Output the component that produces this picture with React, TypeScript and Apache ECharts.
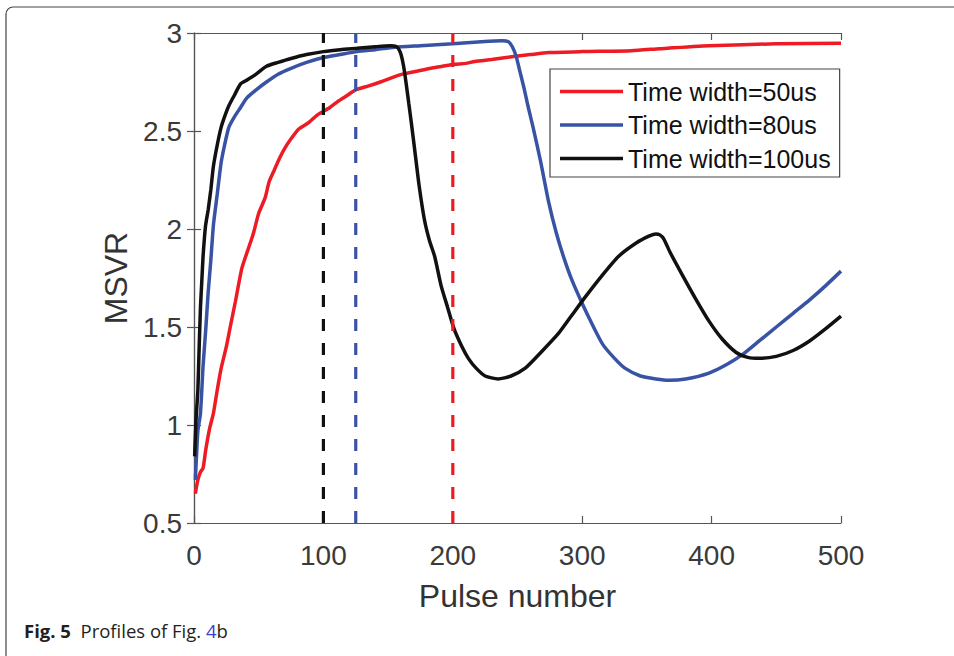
import React, { useEffect, useRef } from "react";
import * as echarts from "echarts";

const redX = [1, 3, 5, 7, 9, 12, 15, 18, 21, 25, 28, 32, 37, 42, 46, 50, 55, 58, 62, 66, 70, 75, 81, 88, 95, 100, 105, 111, 118, 125, 135, 144, 152, 161, 172, 183, 192, 201, 210, 217, 230, 247, 260, 274, 300, 338, 360, 398, 450, 500];
const redY = [0.65, 0.72, 0.76, 0.78, 0.87, 0.98, 1.06, 1.18, 1.29, 1.4, 1.5, 1.63, 1.8, 1.9, 1.98, 2.08, 2.16, 2.24, 2.3, 2.36, 2.41, 2.46, 2.51, 2.54, 2.58, 2.6, 2.62, 2.65, 2.68, 2.71, 2.73, 2.75, 2.77, 2.79, 2.805, 2.82, 2.83, 2.84, 2.845, 2.855, 2.865, 2.88, 2.89, 2.9, 2.905, 2.91, 2.92, 2.935, 2.945, 2.948];

const blueX = [1, 2, 3, 5, 7, 9, 11, 13, 15, 18, 21, 24, 27, 31, 36, 41, 48, 56, 65, 75, 87, 100, 113, 126, 140, 155, 175, 200, 222, 238, 243, 246, 249, 252, 255, 258, 262, 268, 274, 280, 286, 292, 300, 308, 316, 325, 333, 345, 357, 367, 380, 398, 412, 424, 437, 450, 463, 476, 488, 500];
const blueY = [0.72, 0.85, 0.97, 1.06, 1.3, 1.48, 1.68, 1.84, 2.02, 2.18, 2.34, 2.44, 2.52, 2.57, 2.62, 2.67, 2.71, 2.75, 2.79, 2.82, 2.85, 2.875, 2.89, 2.905, 2.915, 2.927, 2.935, 2.945, 2.955, 2.96, 2.955, 2.93, 2.88, 2.8, 2.72, 2.63, 2.52, 2.34, 2.14, 1.98, 1.85, 1.74, 1.62, 1.51, 1.41, 1.34, 1.29, 1.25, 1.235, 1.228, 1.235, 1.265, 1.31, 1.36, 1.43, 1.5, 1.57, 1.64, 1.71, 1.785];

const blackX = [0.5, 1.5, 3, 4, 5, 6, 7, 8, 9, 11, 13, 15, 18, 21, 24, 27, 31, 36, 41, 48, 56, 65, 75, 87, 100, 113, 126, 140, 152, 156, 158, 160, 162, 164, 166, 168, 171, 174, 178, 182, 186, 191, 196, 201, 207, 212, 218, 225, 235, 245, 256, 268, 282, 292, 302, 315, 328, 342, 352, 357, 360, 363, 368, 377, 388, 398, 408, 419, 428, 437, 450, 463, 476, 488, 500];
const blackY = [0.84, 1.02, 1.18, 1.4, 1.6, 1.73, 1.86, 1.95, 2.02, 2.1, 2.2, 2.32, 2.43, 2.52, 2.58, 2.63, 2.68, 2.74, 2.76, 2.79, 2.83, 2.85, 2.87, 2.89, 2.905, 2.915, 2.922, 2.93, 2.935, 2.932, 2.92, 2.89, 2.83, 2.74, 2.64, 2.54, 2.38, 2.22, 2.05, 1.94, 1.86, 1.71, 1.6, 1.49, 1.4, 1.34, 1.29, 1.25, 1.235, 1.25, 1.29, 1.37, 1.47, 1.56, 1.65, 1.76, 1.86, 1.93, 1.965, 1.975, 1.97, 1.95, 1.88, 1.77, 1.64, 1.53, 1.44, 1.37, 1.345, 1.34, 1.35, 1.38, 1.43, 1.49, 1.555];

const seriesNames = ["Time width=50us", "Time width=80us", "Time width=100us"];
const seriesColors = ["#ed1c24", "#3953a4", "#111111"];
const markerX = [100, 125, 200];
const markerColors = ["#111111", "#3953a4", "#ed1c24"];
const yRange = [0.5, 3];
const xTicks = { min: 0, max: 500, interval: 100 };
const yTicks = { min: 0.5, max: 3, interval: 0.5 };

const zip = (xs: number[], ys: number[]) => xs.map((x, i) => [x, ys[i]]);

export default function App() {
  const ref = useRef<HTMLDivElement>(null);
  useEffect(() => {
    if (!ref.current) return;
    const chart = echarts.init(ref.current, undefined, { renderer: "svg" });
    const axisColor = "#555";
    const labelFont = "Liberation Sans, Arial, sans-serif";
    const datas = [zip(redX, redY), zip(blueX, blueY), zip(blackX, blackY)];
    const mainSeries = seriesNames.map((name, i) => ({
      name,
      type: "line",
      data: datas[i],
      showSymbol: false,
      symbol: "none",
      smooth: 0.2,
      lineStyle: { color: seriesColors[i], width: 3.5 },
      itemStyle: { color: seriesColors[i] },
      z: 3 + i,
    }));
    const dashSeries = markerX.map((x, i) => ({
      name: "marker" + i,
      type: "line",
      data: [[x, yRange[0]], [x, yRange[1]]],
      showSymbol: false,
      symbol: "none",
      lineStyle: { color: markerColors[i], width: 3.2, type: [12, 12] },
      z: 10,
    }));
    const commonX = {
      type: "value",
      min: xTicks.min,
      max: xTicks.max,
      interval: xTicks.interval,
      splitLine: { show: false },
      axisLine: { show: true, lineStyle: { color: axisColor, width: 1.2 } },
      axisTick: { show: true, inside: true, length: 7, lineStyle: { color: axisColor, width: 1.2 } },
    };
    const commonY = {
      type: "value",
      min: yTicks.min,
      max: yTicks.max,
      interval: yTicks.interval,
      splitLine: { show: false },
      axisLine: { show: true, lineStyle: { color: axisColor, width: 1.2 } },
      axisTick: { show: true, inside: true, length: 7, lineStyle: { color: axisColor, width: 1.2 } },
    };
    chart.setOption({
      animation: false,
      backgroundColor: "#fff",
      grid: { left: 194, right: 113, top: 33, bottom: 133, containLabel: false },
      xAxis: [
        {
          ...commonX,
          position: "bottom",
          name: "Pulse number",
          nameLocation: "middle",
          nameGap: 57,
          nameTextStyle: { fontSize: 32, color: "#333", fontFamily: labelFont },
          axisLabel: { fontSize: 28, color: "#3a3a3a", margin: 18, fontFamily: labelFont },
        },
        { ...commonX, position: "top", axisLabel: { show: false } },
      ],
      yAxis: [
        {
          ...commonY,
          position: "left",
          name: "MSVR",
          nameLocation: "middle",
          nameGap: 58,
          nameTextStyle: { fontSize: 32, color: "#333", fontFamily: labelFont },
          axisLabel: { fontSize: 28, color: "#3a3a3a", margin: 12, fontFamily: labelFont },
        },
        { ...commonY, position: "right", axisLabel: { show: false } },
      ],
      legend: {
        data: seriesNames,
        orient: "vertical",
        left: 550,
        top: 69,
        padding: [10, 9, 6, 10],
        itemGap: 8.5,
        itemWidth: 63,
        itemHeight: 3.5,
        icon: "rect",
        borderColor: "#444",
        borderWidth: 1.2,
        backgroundColor: "#fff",
        textStyle: { fontSize: 25, color: "#111", fontFamily: labelFont },
      },
      graphic: [
        {
          type: "rect",
          shape: { x: 6, y: 7, width: 1000, height: 700, r: 7 },
          style: { fill: "none", stroke: "#444", lineWidth: 1.2 },
          z: -1,
          silent: true,
        },
        {
          type: "text",
          left: 24,
          top: 621,
          style: {
            text: "{b|Fig. 5}  {n|Profiles of Fig. }{l|4}{n|b}",
            rich: {
              b: { fontSize: 18.5, fontWeight: "bold", fill: "#231f20", fontFamily: "Open Sans" },
              n: { fontSize: 18.5, fill: "#231f20", fontFamily: "Open Sans" },
              l: { fontSize: 18.5, fill: "#3b3bd8", fontFamily: "Open Sans" },
            },
            fontSize: 18.5,
            fontFamily: "Open Sans",
          },
        },
      ],
      series: [...mainSeries, ...dashSeries],
    });
    return () => chart.dispose();
  }, []);
  return <div ref={ref} style={{ position: "fixed", left: 0, top: 0, width: 954, height: 656 }} />;
}
